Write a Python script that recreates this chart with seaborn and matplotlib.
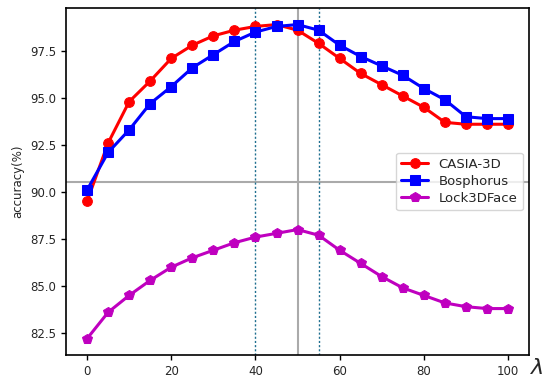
import matplotlib
matplotlib.use("Agg")
import matplotlib.pyplot as plt
import seaborn as sns
import pandas as pd

lam = [0, 5, 10, 15, 20, 25, 30, 35, 40, 45, 50, 55, 60, 65, 70, 75, 80, 85, 90, 95, 100]
casia = [89.5, 92.6, 94.8, 95.9, 97.1, 97.8, 98.3, 98.6, 98.8, 98.9, 98.6,
         97.9, 97.1, 96.3, 95.7, 95.1, 94.5, 93.7, 93.6, 93.6, 93.6]
bosph = [90.1, 92.1, 93.3, 94.7, 95.6, 96.6, 97.3, 98.0, 98.5, 98.8, 98.9,
         98.6, 97.8, 97.2, 96.7, 96.2, 95.5, 94.9, 94.0, 93.9, 93.9]
lock = [82.2, 83.6, 84.5, 85.3, 86.0, 86.5, 86.9, 87.3, 87.6, 87.8, 88.0,
        87.7, 86.9, 86.2, 85.5, 84.9, 84.5, 84.1, 83.9, 83.8, 83.8]
names = ["CASIA-3D", "Bosphorus", "Lock3DFace"]
colors = ["#ff0000", "#0000ff", "#bf00bf"]
markers = ["o", "s", "p"]
yticks = [82.5, 85.0, 87.5, 90.0, 92.5, 95.0, 97.5]
xticks = [0, 20, 40, 60, 80, 100]
hline_y = 90.53
vline_x = 50
dotted_x = [40, 55]

sns.set_style("ticks")
plt.rcParams['font.family'] = ['DejaVu Sans']

df = pd.DataFrame({"lam": lam * 3,
                   "acc": casia + bosph + lock,
                   "dataset": sum([[n] * len(lam) for n in names], [])})

fig = plt.figure(figsize=(5.5, 3.91), dpi=100)
ax = fig.add_axes([0.12, 0.092, 0.842, 0.888])

ax.axhline(hline_y, color="#aaaaaa", lw=1.5, zorder=1)
ax.axvline(vline_x, color="#aaaaaa", lw=1.5, zorder=1)
for xd in dotted_x:
    ax.axvline(xd, color="#1f6f8f", lw=1.0, ls=(0, (1.5, 1.5)), zorder=1)

for n, c, m in zip(names, colors, markers):
    sub = df[df.dataset == n]
    sns.lineplot(data=sub, x="lam", y="acc", ax=ax, color=c, marker=m,
                 markersize=7, markeredgecolor=c, lw=2.2, label=n, zorder=3)

ax.set_xlim(-5, 105)
ax.set_ylim(81.33, 99.79)
ax.set_yticks(yticks)
ax.set_yticklabels([f"{v:.1f}" for v in yticks])
ax.set_xticks(xticks)
ax.tick_params(labelsize=8.5, direction="out", length=3.5, width=1, color="black")
for s in ax.spines.values():
    s.set_color("black")
    s.set_linewidth(1.2)
ax.set_xlabel("")
ax.set_ylabel("accuracy(%)", fontsize=8.5)
leg = ax.legend(loc="center right", fontsize=9.5, frameon=True, fancybox=True,
                borderpad=0.4, labelspacing=0.3, handlelength=2.0)
leg.get_frame().set_edgecolor("#cccccc")
fig.text(0.977, 0.058, r"$\lambda$", fontsize=16, ha="center", va="center")

fig.savefig("out.png", dpi=100)
